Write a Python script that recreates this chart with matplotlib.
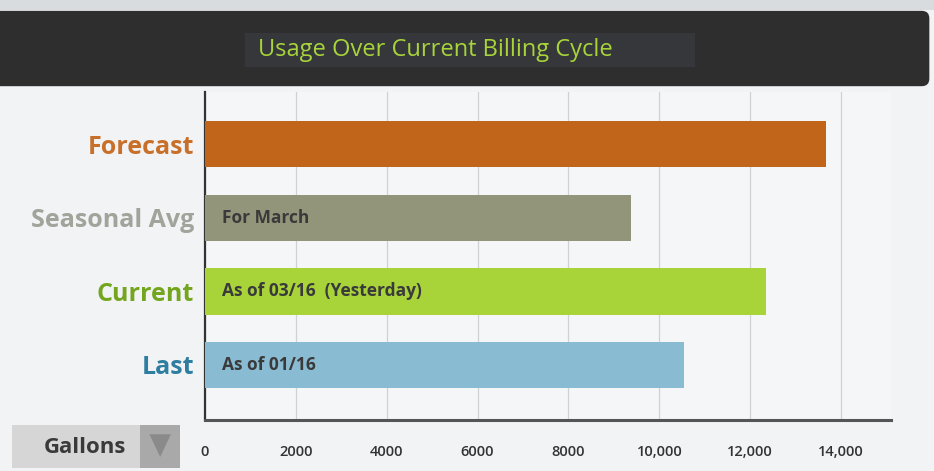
import matplotlib.pyplot as plt
from matplotlib.patches import FancyBboxPatch, Rectangle, Polygon

categories = ['Last', 'Current', 'Seasonal Avg', 'Forecast']
gallons = [10550, 12350, 9380, 13670]
notes = ['As of 01/16', 'As of 03/16  (Yesterday)', 'For March', '']
bar_colors = ['#89bbd3', '#a8d43a', '#93957a', '#c0651a']
label_colors = ['#2f7ea0', '#74a51f', '#a0a49a', '#c8702a']
ticks = [0, 2000, 4000, 6000, 8000, 10000, 12000, 14000]
tick_labels = ['0', '2000', '4000', '6000', '8000', '10,000', '12,000', '14,000']

plt.rcParams['font.family'] = ['Open Sans', 'DejaVu Sans']

fig = plt.figure(figsize=(9.34, 4.71), dpi=100)
fig.patch.set_facecolor('#f1f3f5')

# page strip on top and dark header
fig.add_artist(Rectangle((0, 0.979), 1, 0.021, transform=fig.transFigure,
                         facecolor='#d9dcde', edgecolor='none'))
fig.add_artist(FancyBboxPatch((-0.02, 0.817), 1.015, 0.16, transform=fig.transFigure,
                              boxstyle='round,pad=0,rounding_size=0.008',
                              facecolor='#2e2e2e', edgecolor='none', mutation_aspect=2))
fig.add_artist(Rectangle((0.262, 0.858), 0.482, 0.072, transform=fig.transFigure,
                         facecolor='#35373b', edgecolor='none'))
fig.text(0.466, 0.893, 'Usage Over Current Billing Cycle', color='#a8d43a',
         fontsize=17, ha='center', va='center')

ax = fig.add_axes([0.2195, 0.108, 0.7345, 0.697])
ax.set_facecolor('#f4f6f8')
y = range(len(categories))
ax.barh(y, gallons, height=0.63, color=bar_colors, zorder=3)
ax.set_xlim(0, 15100)
ax.set_ylim(-0.75, 3.71)

for i, note in enumerate(notes):
    if note:
        ax.text(370, i, note, color='#3a3a3a', fontsize=12.5, fontweight='bold',
                va='center', ha='left', zorder=4)

ax.set_yticks(list(y))
ax.set_yticklabels(categories, fontsize=18, fontweight='bold')
for lbl, c in zip(ax.get_yticklabels(), label_colors):
    lbl.set_color(c)
ax.tick_params(axis='y', length=0, pad=8)

ax.set_xticks(ticks)
ax.set_xticklabels(tick_labels, fontsize=10.5, color='#333333', fontweight='semibold')
ax.tick_params(axis='x', length=0, pad=18)
ax.grid(axis='x', color='#cfd2d4', linewidth=0.9, zorder=0)

for s in ['top', 'right']:
    ax.spines[s].set_visible(False)
ax.spines['left'].set_color('#333333')
ax.spines['left'].set_linewidth(1.6)
ax.spines['bottom'].set_color('#555555')
ax.spines['bottom'].set_linewidth(2.2)

# units selector box
fig.add_artist(Rectangle((0.013, 0.006), 0.137, 0.092, transform=fig.transFigure,
                         facecolor='#d6d6d6', edgecolor='none'))
fig.add_artist(Rectangle((0.150, 0.006), 0.043, 0.092, transform=fig.transFigure,
                         facecolor='#a9a9a9', edgecolor='none'))
fig.add_artist(Polygon([[0.160, 0.078], [0.183, 0.078], [0.1715, 0.030]],
                       closed=True, transform=fig.transFigure,
                       facecolor='#8a8a8a', edgecolor='none'))
fig.text(0.091, 0.050, 'Gallons', fontsize=16, fontweight='bold', color='#3a3a3a',
         ha='center', va='center')

fig.savefig('out.png', dpi=100, facecolor=fig.get_facecolor())
